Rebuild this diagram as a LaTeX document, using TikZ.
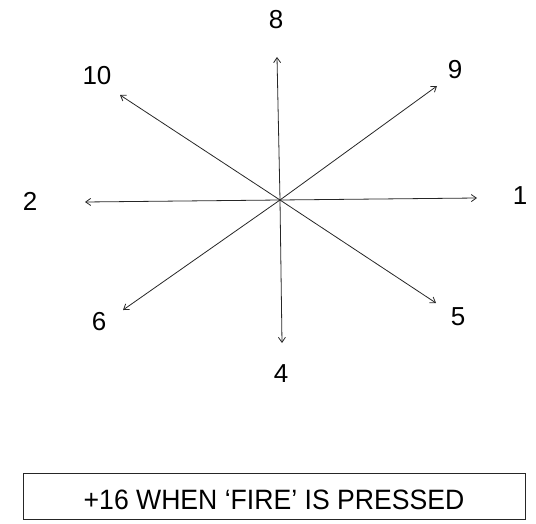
\documentclass[tikz,border=0pt]{standalone}
\usepackage{fontspec}
\setmainfont{Liberation Sans}
\usetikzlibrary{arrows.meta}
\begin{document}
\begin{tikzpicture}[x=1pt,y=-1pt,
  dirarrow/.style={draw=black!85,line width=0.8pt,-{Straight Barb[length=5pt,width=7pt]}},
  numlabel/.style={inner sep=0pt,font=\fontsize{26}{30}\selectfont},
  notebox/.style={draw=black!85,line width=0.8pt,minimum width=502pt,minimum height=46pt,inner sep=0pt,text height=26pt,text depth=0pt,font=\fontsize{28}{32}\selectfont}]
\useasboundingbox (0,0) rectangle (536,524);
\coordinate (c) at (280,200);
\coordinate (t1) at (477,198);
\coordinate (t2) at (85,202);
\coordinate (t4) at (282,343);
\coordinate (t5) at (436,303);
\coordinate (t6) at (123,310);
\coordinate (t8) at (277,57);
\coordinate (t9) at (437,86);
\coordinate (t10) at (120,95);
\foreach \t in {t1,t2,t4,t5,t6,t8,t9,t10} \draw[dirarrow] (c) -- (\t);
\node[numlabel] (l1) at (520,196) {1};
\node[numlabel] (l2) at (30,201) {2};
\node[numlabel] (l4) at (281,374) {4};
\node[numlabel] (l5) at (458,317) {5};
\node[numlabel] (l6) at (99,322) {6};
\node[numlabel] (l8) at (276,20) {8};
\node[numlabel] (l9) at (455,70) {9};
\node[numlabel] (l10) at (97,76) {10};
\node[notebox] (note) at (274,496) {\scalebox{0.95}[1]{+16 WHEN ‘FIRE’ IS PRESSED}};
\end{tikzpicture}
\end{document}
